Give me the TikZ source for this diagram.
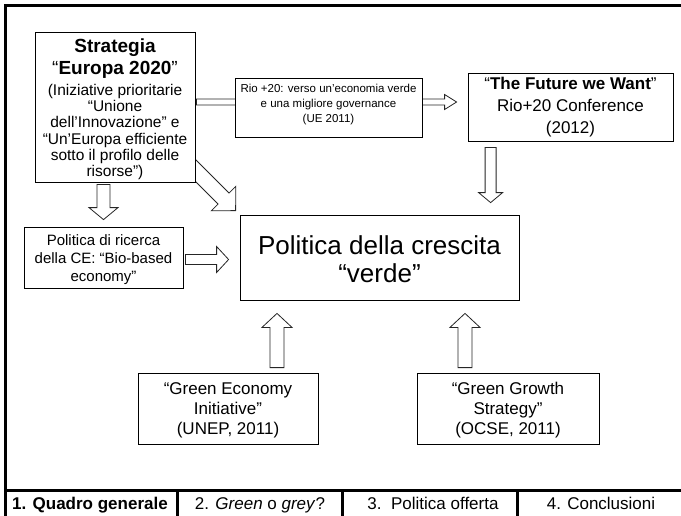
\documentclass[tikz,border=0pt]{standalone}
\usepackage{fontspec}
\setmainfont{Liberation Sans}[Ligatures=ResetAll]
\usetikzlibrary{calc,shadows,backgrounds}
\tikzset{
  box/.style={draw=black, line width=0.8pt, fill=white, inner sep=0pt,
    drop shadow={shadow xshift=1pt, shadow yshift=-1pt, opacity=1, fill=black!30}},
  blk/.style={draw=black!85, fill=white, line width=0.8pt, line join=miter},
  frm/.style={line width=3pt, draw=black},
  txt/.style={align=center, inner sep=0pt},
  foot/.style={font=\fontsize{17}{20}\selectfont, anchor=base, inner sep=0pt},
}
% block arrow: #1 start, #2 tip, #3 half shaft, #4 half head, #5 head length
\newcommand\barr[5]{%
  \coordinate (ba-s) at #1;
  \coordinate (ba-e) at #2;
  \coordinate (ba-h) at ($(ba-e)!#5!(ba-s)$);
  \draw[blk] ($(ba-s)!#3!90:(ba-e)$) -- ($(ba-h)!#3!-90:(ba-s)$) -- ($(ba-h)!#4!-90:(ba-s)$)
    -- (ba-e) -- ($(ba-h)!#4!90:(ba-s)$) -- ($(ba-h)!#3!90:(ba-s)$) -- ($(ba-s)!#3!-90:(ba-e)$) -- cycle;
}
\begin{document}
\begin{tikzpicture}[x=1pt,y=-1pt]
\useasboundingbox (0,0) rectangle (681,515);
\clip (0,0) rectangle (681,515);
% frame
\draw[frm, line join=miter] (690,5) -- (5,5) -- (5,520);
\draw[frm] (5,490.5) -- (690,490.5);
\draw[frm] (177,490) -- (177,520);
\draw[frm] (342,490) -- (342,520);
\draw[frm] (517,490) -- (517,520);
% footer
\node[foot] (f1) at (90,509) {\textbf{1. Quadro generale}};
\node[foot] (f2) at (260,509) {2. \textit{Green} o \textit{grey}?};
\node[foot] (f3) at (433,509) {3.\ \ Politica offerta};
\node[foot] (f4) at (601,509) {4. Conclusioni};
% boxes
\node[box, minimum width=160pt, minimum height=150pt] (eu) at (115,107) {};
\node[box, minimum width=187pt, minimum height=59pt] (rio) at (328.5,107.5) {};
\node[box, minimum width=205pt, minimum height=68pt] (fut) at (570.5,107) {};
\node[box, minimum width=159pt, minimum height=61pt] (bio) at (103.5,257.5) {};
\node[box, minimum width=279pt, minimum height=85pt] (ctr) at (379.5,257.5) {};
\node[box, minimum width=180pt, minimum height=71pt] (gei) at (228,408.5) {};
\node[box, minimum width=182pt, minimum height=71pt] (ggs) at (508,408.5) {};
% texts
\node[txt, font=\fontsize{19}{22}\selectfont\bfseries] (eut) at (eu.center |- 0,59) {Strategia\\{\mdseries“}Europa 2020{\mdseries”}};
\node[txt, font=\fontsize{15.5}{16.2}\selectfont] (eub) at (eu.center |- 0,132) {(Iniziative prioritarie\\“Unione\\dell’Innovazione" e\\“Un'Europa efficiente\\sotto il profilo delle\\risorse")};
\node[txt, font=\fontsize{11.5}{15}\selectfont] (riot) at (rio.center |- 0,105) {Rio +20: verso un’economia verde\\e una migliore governance\\(UE 2011)};
\node[txt, font=\fontsize{17}{22}\selectfont] (futt) at (fut.center |- 0,107.5) {“\textbf{The Future we Want}”\\Rio+20 Conference\\(2012)};
\node[txt, font=\fontsize{15}{18}\selectfont] (biot) at (bio.center |- 0,260) {Politica di ricerca\\della CE: “Bio-based\\economy”};
\node[txt, font=\fontsize{26}{28}\selectfont] (ctrt) at (ctr.center |- 0,259) {Politica della crescita\\“verde”};
\node[txt, font=\fontsize{17}{20}\selectfont] (geit) at (gei.center |- 0,410) {“Green Economy\\Initiative”\\(UNEP, 2011)};
\node[txt, font=\fontsize{17}{20}\selectfont] (ggst) at (ggs.center |- 0,410) {“Green Growth\\Strategy”\\(OCSE, 2011)};
% arrows
\begin{scope}[on background layer]
\barr{($(eu.south -| bio.north)+(0,2)$)}{($(bio.north)+(0,-7)$)}{6.5pt}{14.5pt}{12pt}
\barr{($(eu.east)+(1,-5)$)}{($(fut.west)+(-11,-5)$)}{3pt}{7.5pt}{12pt}
\barr{($(eu.south east)+(-10,-22)$)}{($(ctr.north west)+(-4,-4)$)}{7.75pt}{17.3pt}{17pt}
\coordinate (a4) at ($(fut.south west)+(23,6)$);
\barr{(a4)}{($(a4 |- ctr.north)+(0,-12)$)}{5.5pt}{12pt}{10pt}
\barr{($(bio.east)+(2,2)$)}{($(ctr.west)+(-11,2)$)}{5pt}{13pt}{12pt}
\coordinate (a6) at ($(gei.north)+(49,-5)$);
\barr{(a6)}{($(a6 |- ctr.south)+(0,13)$)}{7pt}{15pt}{14pt}
\coordinate (a7) at ($(ggs.north)+(-43,-5)$);
\barr{(a7)}{($(a7 |- ctr.south)+(0,13)$)}{7pt}{15pt}{14pt}
\end{scope}
\end{tikzpicture}
\end{document}
